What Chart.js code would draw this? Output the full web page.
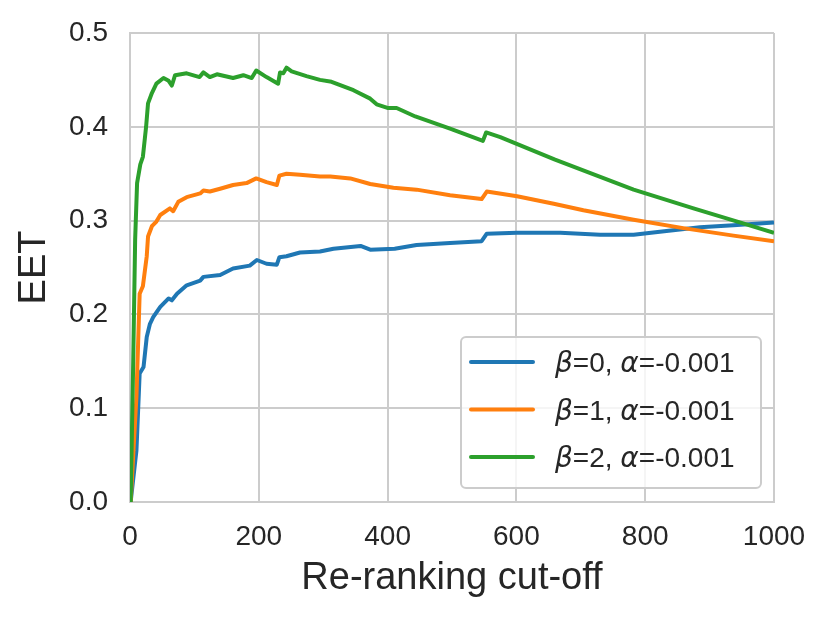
<!DOCTYPE html>
<html>
<head>
<meta charset="utf-8">
<script src="https://cdn.jsdelivr.net/npm/chart.js@4/dist/chart.umd.min.js"></script>
<style>
  html, body { margin: 0; padding: 0; background: #fff; }
</style>
</head>
<body>
<canvas id="eet" width="829" height="620"></canvas>
<script>
// Re-ranking cut-off vs EET
const cutoffsB0 = [1, 10, 15, 21, 26, 31, 36, 47, 60, 65, 73, 88, 109, 114, 140, 160, 186, 197, 212, 228, 232, 243, 264, 295, 316, 358, 373, 411, 445, 497, 546, 554, 601, 668, 730, 782, 833, 885, 937, 1000];
const eetB0 = [0, 0.055, 0.137, 0.144, 0.176, 0.190, 0.197, 0.208, 0.217, 0.215, 0.222, 0.231, 0.236, 0.240, 0.242, 0.249, 0.252, 0.258, 0.254, 0.253, 0.261, 0.262, 0.266, 0.267, 0.270, 0.273, 0.269, 0.270, 0.274, 0.276, 0.278, 0.286, 0.287, 0.287, 0.285, 0.285, 0.289, 0.293, 0.295, 0.298];

const cutoffsB1 = [1, 10, 15, 20, 26, 28, 34, 41, 47, 62, 67, 75, 88, 109, 114, 124, 140, 160, 181, 196, 212, 228, 232, 243, 264, 295, 311, 342, 373, 409, 445, 497, 546, 554, 601, 658, 704, 782, 859, 937, 1000];
const eetB1 = [0, 0.112, 0.222, 0.230, 0.262, 0.283, 0.294, 0.299, 0.306, 0.313, 0.310, 0.320, 0.325, 0.329, 0.332, 0.331, 0.334, 0.338, 0.340, 0.345, 0.341, 0.338, 0.348, 0.350, 0.349, 0.347, 0.347, 0.345, 0.339, 0.335, 0.333, 0.327, 0.323, 0.331, 0.326, 0.318, 0.311, 0.301, 0.292, 0.284, 0.278];

const cutoffsB2 = [1, 5, 8, 11, 16, 20, 25, 28, 34, 41, 52, 60, 65, 70, 88, 108, 114, 124, 135, 160, 176, 189, 196, 212, 230, 233, 238, 243, 251, 274, 295, 313, 347, 373, 383, 401, 414, 443, 497, 548, 553, 575, 660, 782, 875, 952, 1000];
const eetB2 = [0, 0.150, 0.280, 0.340, 0.360, 0.368, 0.400, 0.425, 0.436, 0.446, 0.452, 0.449, 0.444, 0.455, 0.457, 0.453, 0.458, 0.453, 0.456, 0.452, 0.455, 0.452, 0.460, 0.453, 0.446, 0.458, 0.457, 0.463, 0.459, 0.454, 0.450, 0.448, 0.439, 0.430, 0.424, 0.420, 0.420, 0.411, 0.398, 0.385, 0.394, 0.389, 0.365, 0.333, 0.313, 0.297, 0.287];

const seriesLabels = ['β=0, α=-0.001', 'β=1, α=-0.001', 'β=2, α=-0.001'];
const seriesColors = ['#1f77b4', '#ff7f0e', '#2ca02c'];
const xTicks = [0, 200, 400, 600, 800, 1000];
const yTicks = [0.0, 0.1, 0.2, 0.3, 0.4, 0.5];

const allX = [cutoffsB0, cutoffsB1, cutoffsB2];
const allY = [eetB0, eetB1, eetB2];

const TEXT = '#262626';
const GRID = '#cccccc';
const SANS = '"Liberation Sans", Arial, sans-serif';

Chart.defaults.font.family = SANS;
Chart.defaults.color = TEXT;

const toPoints = (xs, ys) => xs.map((x, i) => ({ x: x, y: ys[i] }));

// legend drawn inside the plot, bottom right, with italic greek letters
const legendBox = {
  id: 'legendBox',
  afterDatasetsDraw(chart) {
    const { ctx, chartArea } = chart;
    const w = 300, h = 151;
    const x0 = chartArea.right - 13 - w;
    const y0 = chartArea.bottom - 14 - h;
    ctx.save();
    ctx.beginPath();
    ctx.roundRect(x0, y0, w, h, 5);
    ctx.fillStyle = 'rgba(255,255,255,0.8)';
    ctx.fill();
    ctx.lineWidth = 2;
    ctx.strokeStyle = GRID;
    ctx.stroke();

    chart.data.datasets.forEach((ds, i) => {
      const cy = y0 + 25 + i * 47.5;
      ctx.beginPath();
      ctx.moveTo(x0 + 10, cy);
      ctx.lineTo(x0 + 72, cy);
      ctx.lineWidth = 4;
      ctx.lineCap = 'round';
      ctx.strokeStyle = ds.borderColor;
      ctx.stroke();

      let tx = x0 + 94;
      ctx.fillStyle = TEXT;
      ctx.textBaseline = 'alphabetic';
      ctx.textAlign = 'left';
      for (const ch of ds.label) {
        ctx.font = /[\u0370-\u03ff]/.test(ch) ? 'italic 28px "DejaVu Sans"' : '28px ' + SANS;
        ctx.fillText(ch, tx, cy + 10);
        tx += ctx.measureText(ch).width;
      }
    });
    ctx.restore();
  }
};

new Chart(document.getElementById('eet'), {
  type: 'line',
  data: {
    datasets: seriesLabels.map((label, i) => ({
      label: label,
      data: toPoints(allX[i], allY[i]),
      borderColor: seriesColors[i],
      backgroundColor: seriesColors[i],
      borderWidth: 4,
      borderJoinStyle: 'round',
      pointRadius: 0,
      tension: 0,
      fill: false,
      order: 3 - i
    }))
  },
  options: {
    responsive: false,
    animation: false,
    devicePixelRatio: 1,
    layout: { padding: { left: 0, top: 33, right: 55, bottom: 0 } },
    plugins: {
      legend: { display: false },
      tooltip: { enabled: false }
    },
    scales: {
      x: {
        type: 'linear',
        min: 0,
        max: 1000,
        afterFit: (s) => { s.height = 118; },
        afterBuildTicks: (s) => { s.ticks = xTicks.map(v => ({ value: v })); },
        ticks: { font: { size: 28 }, padding: 18, maxRotation: 0, color: TEXT, callback: (v) => String(v) },
        grid: { color: GRID, lineWidth: 2, drawTicks: false },
        border: { color: GRID, width: 2 },
        title: { display: true, text: 'Re-ranking cut-off', font: { size: 38 }, color: TEXT, padding: { top: 0, bottom: 19 } }
      },
      y: {
        type: 'linear',
        min: 0,
        max: 0.5,
        afterFit: (s) => { s.width = 130; s.paddingTop = 0; s.paddingBottom = 0; },
        afterBuildTicks: (s) => { s.ticks = yTicks.map(v => ({ value: v })); },
        ticks: { font: { size: 28 }, padding: 22, color: TEXT, callback: (v) => v.toFixed(1) },
        grid: { color: GRID, lineWidth: 2, drawTicks: false },
        border: { color: GRID, width: 2 },
        title: { display: true, text: 'EET', font: { size: 38 }, color: TEXT, padding: { top: 12, bottom: 0 } }
      }
    }
  },
  plugins: [legendBox]
});
</script>
</body>
</html>
